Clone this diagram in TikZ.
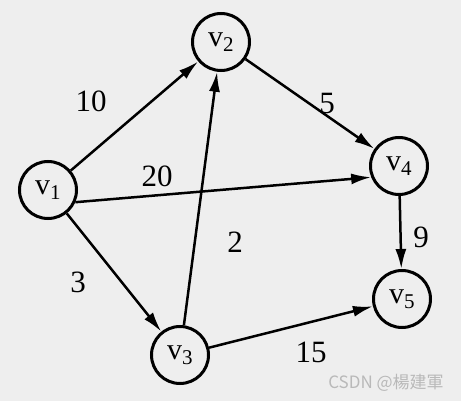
\documentclass[tikz,border=0pt]{standalone}
\usepackage{fontspec}
\setmainfont{Liberation Serif}
\newfontfamily\cjk{Noto Sans CJK TC}
\usetikzlibrary{arrows.meta}
\tikzset{
  vert/.style={circle,draw,line width=3pt,minimum size=57pt,inner sep=0pt,font=\fontsize{30}{32}\selectfont,fill=none},
  edge/.style={line width=2.5pt,-{Latex[length=20pt,width=11pt]}},
  wlabel/.style={font=\fontsize{31}{33}\selectfont,inner sep=0pt},
}
\begin{document}
\begin{tikzpicture}[x=1pt,y=-1pt]
\fill[gray!13] (0,0) rectangle (461,401);
\useasboundingbox (0,0) rectangle (461,401);
\node[vert] (v1) at (48,190) {v\textsubscript{1}};
\node[vert] (v2) at (221,42) {v\textsubscript{2}};
\node[vert] (v3) at (180,355) {v\textsubscript{3}};
\node[vert] (v4) at (399,166) {v\textsubscript{4}};
\node[vert] (v5) at (402,299) {v\textsubscript{5}};
\draw[edge] (v1) -- (v2);
\draw[edge] (v1.-24) -- (v4.-158);
\draw[edge] (v1) -- (v3);
\draw[edge] (v3) -- (v2);
\draw[edge] (v2) -- (v4);
\draw[edge] (v4) -- (v5);
\draw[edge] (v3) -- (v5);
\node[wlabel] (l10) at (91,101) {10};
\node[wlabel] (l20) at (157,176) {20};
\node[wlabel] (l3) at (78,282) {3};
\node[wlabel] (l2) at (235,242) {2};
\node[wlabel] (l5) at (327,104) {5};
\node[wlabel] (l9) at (421,237) {9};
\node[wlabel] (l15) at (311,352) {15};
\node[font=\cjk\fontsize{17}{19}\selectfont,text=gray!55,inner sep=0pt] (wm) at (386,383) {CSDN @楊建軍};
\end{tikzpicture}
\end{document}
